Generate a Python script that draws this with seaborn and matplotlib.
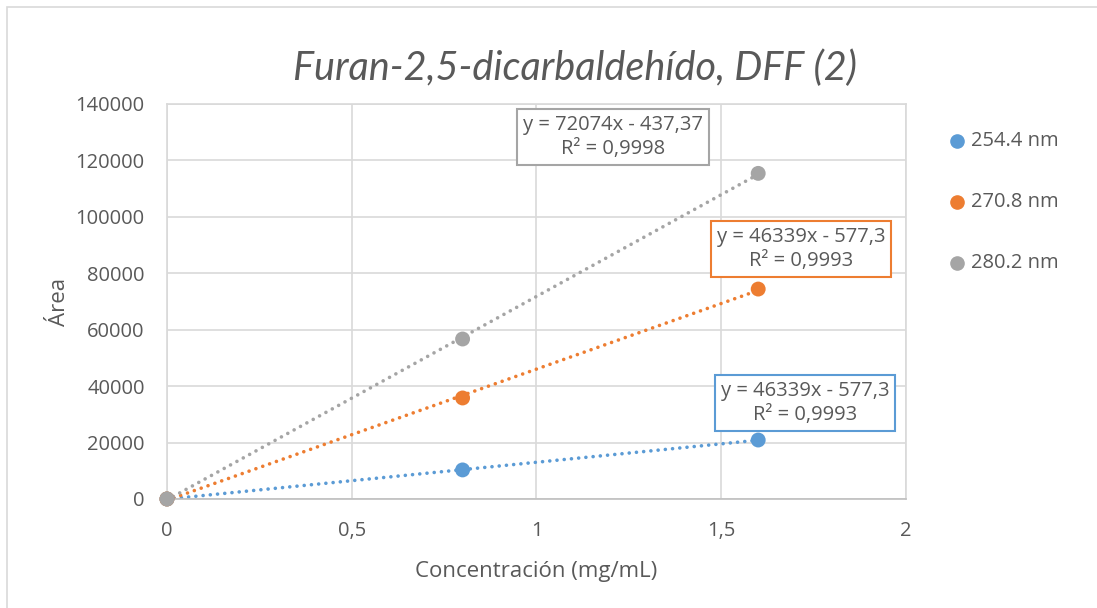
import numpy as np
import pandas as pd
import matplotlib
matplotlib.use("Agg")
import matplotlib.pyplot as plt
from matplotlib.patches import Rectangle
import seaborn as sns

# Calibration data: concentration (mg/mL) vs. peak area at three wavelengths
concentracion = [0.0, 0.8, 1.6]
area_254 = [0, 10300, 20900]
area_270 = [0, 35800, 74400]
area_280 = [0, 56700, 115400]
series = ["254.4 nm", "270.8 nm", "280.2 nm"]
ecuaciones = [
    "y = 46339x - 577,3\nR² = 0,9993",
    "y = 46339x - 577,3\nR² = 0,9993",
    "y = 72074x - 437,37\nR² = 0,9998",
]
x_ticks = [0, 0.5, 1, 1.5, 2]
x_tick_labels = ["0", "0,5", "1", "1,5", "2"]
y_ticks = [0, 20000, 40000, 60000, 80000, 100000, 120000, 140000]

colores = ["#5B9BD5", "#ED7D31", "#A5A5A5"]
texto = "#595959"

df = pd.DataFrame({
    "Concentración": concentracion * 3,
    "Área": area_254 + area_270 + area_280,
    "Serie": [s for s in series for _ in concentracion],
})

sns.set_theme(style="white")
plt.rcParams["font.family"] = ["Open Sans", "DejaVu Sans"]

fig = plt.figure(figsize=(10.97, 6.08), dpi=100)
ax = fig.add_axes([0.1522, 0.1793, 0.6737, 0.6497])

# dotted linear trendlines over the measured range
for s, c in zip(series, colores):
    d = df[df["Serie"] == s]
    m, b = np.polyfit(d["Concentración"], d["Área"], 1)
    xs = np.array([d["Concentración"].min(), d["Concentración"].max()])
    ax.plot(xs, m * xs + b, linestyle=(0, (0.01, 2.0)), color=c, lw=2.6,
            dash_capstyle="round", zorder=2)

sns.scatterplot(data=df, x="Concentración", y="Área", hue="Serie",
                palette=colores, s=115, edgecolor="none", ax=ax, zorder=3,
                legend=False, clip_on=False)

ax.set_xlim(0, 2)
ax.set_ylim(0, 140000)
ax.set_xticks(x_ticks)
ax.set_xticklabels(x_tick_labels)
ax.set_yticks(y_ticks)
ax.set_yticklabels([str(v) for v in y_ticks])
ax.grid(True, color="#D9D9D9", lw=1.2)
ax.set_axisbelow(True)
for side in ["top", "right", "left"]:
    ax.spines[side].set_color("#D9D9D9")
    ax.spines[side].set_linewidth(1.2)
ax.spines["bottom"].set_color("#BFBFBF")
ax.spines["bottom"].set_linewidth(1.2)
ax.tick_params(axis="both", length=0, labelsize=14.5, labelcolor=texto)
ax.tick_params(axis="y", pad=16)
ax.tick_params(axis="x", pad=16)

ax.set_xlabel("Concentración (mg/mL)", fontsize=16, color=texto, labelpad=14)
ax.set_ylabel("Área", fontsize=16, color=texto, labelpad=4)

fig.text(0.524, 1 - 68 / 608, "Furan-2,5-dicarbaldehído, DFF (2)", ha="center",
         va="center", fontsize=28.5, style="italic", color=texto,
         family=["Lato", "DejaVu Sans"])

# trendline equation boxes
posiciones = [(805 / 1097, 1 - 403 / 608), (801 / 1097, 1 - 249 / 608),
              (613 / 1097, 1 - 137 / 608)]
for (fx, fy), eq, c in zip(posiciones, ecuaciones, colores):
    fig.text(fx, fy, eq, ha="center", va="center", fontsize=14.5, color=texto,
             linespacing=1.3,
             bbox=dict(boxstyle="square,pad=0.3", fc="white", ec=c, lw=1.5))

# legend on the right
for i, (s, c) in enumerate(zip(series, colores)):
    yy = 1 - (141 + 61 * i) / 608
    fig.add_artist(plt.Line2D([957 / 1097], [yy], marker="o", color=c,
                              markersize=9.5, linestyle="none"))
    fig.text(971 / 1097, yy, s, ha="left", va="center", fontsize=14.5,
             color=texto)

fig.add_artist(Rectangle((0.006, -0.01), 1.0, 0.998, transform=fig.transFigure,
                         fill=False, ec="#D9D9D9", lw=1.2))

fig.savefig("out.png", dpi=100, facecolor="white")
